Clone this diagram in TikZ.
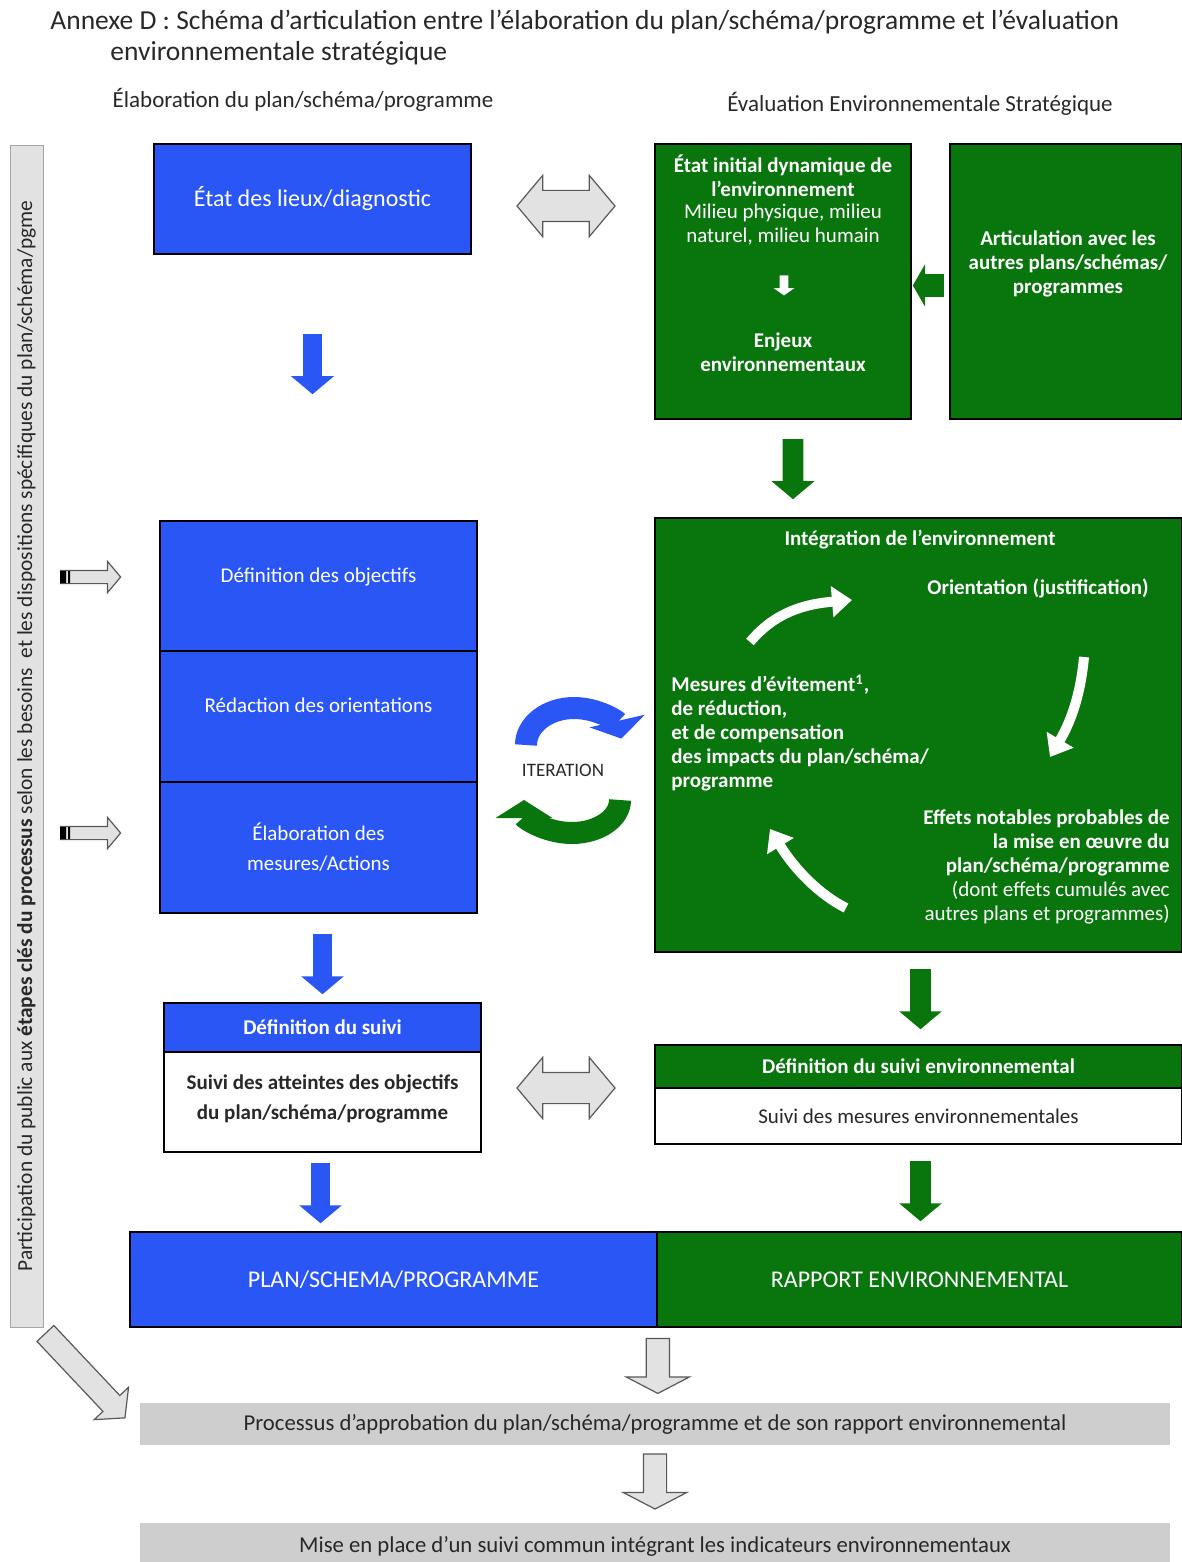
\documentclass[tikz,border=0pt]{standalone}
\usepackage{fontspec}
\setmainfont{Carlito}
\usetikzlibrary{shapes.arrows,arrows.meta}
\definecolor{bleu}{RGB}{42,86,246}
\definecolor{vert}{RGB}{8,118,12}
\definecolor{grisbar}{RGB}{206,206,206}
\definecolor{grisfl}{RGB}{226,226,226}
\definecolor{texte}{RGB}{40,40,40}
\begin{document}
\begin{tikzpicture}[x=0.5pt,y=-0.5pt,
  box/.style={draw=black,line width=0.8pt,inner sep=0pt,align=center,
    font=\fontsize{10.5}{12}\selectfont},
  bluebox/.style={box,fill=bleu,text=white},
  greenbox/.style={box,fill=vert,text=white},
  whitebox/.style={box,fill=white,text=texte},
  graybar/.style={fill=grisbar,inner sep=0pt,text=texte,
    font=\fontsize{11.35}{13}\selectfont},
  wtxt/.style={text=white,align=center,inner sep=0pt,
    font=\fontsize{10.5}{12}\selectfont},
  wbold/.style={wtxt,font=\fontsize{10.5}{12}\selectfont\bfseries},
  arr/.style={single arrow,anchor=tail,draw=none,single arrow tip angle=100},
  bluedown/.style={arr,fill=bleu,rotate=-90,inner sep=4.5pt,
    single arrow head extend=6pt,minimum height=30pt},
  greendown/.style={arr,fill=vert,rotate=-90,inner sep=5pt,
    single arrow head extend=5.5pt,minimum height=30pt},
  graydown/.style={arr,fill=grisfl,draw=black!65,line width=0.6pt,rotate=-90,
    inner sep=5.5pt,single arrow head extend=10pt,single arrow tip angle=125,
    minimum height=27.5pt},
  twoway/.style={double arrow,fill=grisfl,draw=black!65,line width=0.6pt,
    inner sep=7.5pt,double arrow head extend=7.5pt,double arrow tip angle=100,
    minimum height=49pt},
  sidearr/.style={arr,fill=grisfl,draw=black!65,line width=0.6pt,inner sep=3pt,
    single arrow head extend=4.5pt,minimum height=30pt},
  wcurve/.style={white,line width=5pt,-{Triangle[length=10pt,width=15pt]}},
  iter/.style={line width=11pt,-{Triangle[length=9pt,width=28pt]}}]
\useasboundingbox (0,0) rectangle (1182,1562);

% titre
\node[anchor=west,inner sep=0pt,text=texte,font=\fontsize{13.75}{15}\selectfont] (titre1) at (50,22)
  {Annexe D : Schéma d’articulation entre l’élaboration du plan/schéma/programme et l’évaluation};
\node[anchor=west,inner sep=0pt,text=texte,font=\fontsize{13.75}{15}\selectfont] (titre2) at (110,53)
  {environnementale stratégique};
\node[inner sep=0pt,text=texte,font=\fontsize{11.5}{13}\selectfont] (colg) at (303,100)
  {Élaboration du plan/schéma/programme};
\node[inner sep=0pt,text=texte,font=\fontsize{11.5}{13}\selectfont] (cold) at (920,104)
  {Évaluation Environnementale Stratégique};

% participation du public
\node[fill=grisfl,draw=black!35,rotate=90,inner sep=0pt,minimum width=591pt,minimum height=16.5pt,
  text=texte,font=\fontsize{10.7}{12}\selectfont] (part) at (26.5,736)
  {Participation du public aux \textbf{étapes clés du processus} selon les besoins\ \ et les dispositions spécifiques du plan/schéma/pgme};

% colonne plan/schema/programme
\node[bluebox,minimum width=158.5pt,minimum height=55pt,font=\fontsize{12}{14}\selectfont] (etat) at (312.5,199)
  {État des lieux/diagnostic};
\node[bluebox,minimum width=158.5pt,minimum height=65pt,text depth=11pt] (objectifs) at (318.5,586)
  {Définition des objectifs};
\node[bluebox,minimum width=158.5pt,minimum height=65.5pt,text depth=11pt] (redaction) at (318.5,716.5)
  {Rédaction des orientations};
\node[bluebox,minimum width=158.5pt,minimum height=65.5pt] (mesures) at (318.5,847.5)
  {Élaboration des\\[3pt]mesures/Actions};
\node[bluebox,minimum width=158.5pt,minimum height=24.5pt,font=\fontsize{10.5}{12}\selectfont\bfseries] (suivihead) at (322.5,1027.5)
  {Définition du suivi};
\node[whitebox,minimum width=158.5pt,minimum height=50pt,text depth=5pt,
  font=\fontsize{10.5}{15}\selectfont\bfseries] (suivibody) at (322.5,1102)
  {Suivi des atteintes des objectifs\\du plan/schéma/programme};

% colonne evaluation environnementale
\node[greenbox,minimum width=128pt,minimum height=137.5pt] (etatinit) at (783,281.5) {};
\node[wbold] (eti) at (783,176) {État initial dynamique de\\l’environnement};
\node[wtxt] (milieu) at (783,224.5) {Milieu physique, milieu\\naturel, milieu humain};
\node[wbold] (enjeux) at (783,352) {Enjeux\\environnementaux};
\node[arr,fill=white,rotate=-90,inner sep=2pt,single arrow head extend=3pt,
  single arrow tip angle=110,minimum height=10pt] (petite) at (784,275) {};
\node[greenbox,minimum width=116pt,minimum height=137.5pt] (artic) at (1066,281.5) {};
\node[wbold] (artict) at (1068,264) {Articulation avec les\\autres plans/schémas/\\programmes};

\node[greenbox,minimum width=263.5pt,minimum height=217pt] (integ) at (918.5,735) {};
\node[wbold] (integt) at (920,540) {Intégration de l’environnement};
\node[wbold] (orient) at (1038,588) {Orientation (justification)};
\node[wbold,align=left,anchor=west] (evit) at (671,733)
  {Mesures d’évitement\textsuperscript{1},\\de réduction,\\et de compensation\\des impacts du plan/schéma/\\programme};
\node[wtxt,align=right,anchor=east] (effets) at (1170,867)
  {\bfseries Effets notables probables de\\\bfseries la mise en œuvre du\\\bfseries plan/schéma/programme\\(dont effets cumulés avec\\autres plans et programmes)};
\draw[wcurve] (750,642) .. controls (775,612) and (805,604) .. (852,600);
\draw[wcurve] (1084,657) .. controls (1081,690) and (1073,718) .. (1050,757);
\draw[wcurve] (846,908) .. controls (820,895) and (795,870) .. (770,829);

\node[greenbox,minimum width=263.5pt,minimum height=21.5pt,font=\fontsize{10.5}{12}\selectfont\bfseries] (envhead) at (918.5,1066.5)
  {Définition du suivi environnemental};
\node[whitebox,minimum width=263.5pt,minimum height=28pt] (envbody) at (918.5,1116)
  {Suivi des mesures environnementales};

% rapport final
\node[bluebox,minimum width=263.5pt,minimum height=47.5pt,font=\fontsize{12}{14}\selectfont] (plan) at (393.5,1279.5)
  {PLAN/SCHEMA/PROGRAMME};
\node[greenbox,minimum width=262.5pt,minimum height=47.5pt,font=\fontsize{12}{14}\selectfont] (rapport) at (919.5,1279.5)
  {RAPPORT ENVIRONNEMENTAL};
\node[graybar,minimum width=515pt,minimum height=21pt] (approb) at (655,1424)
  {Processus d’approbation du plan/schéma/programme et de son rapport environnemental};
\node[graybar,minimum width=515pt,minimum height=23pt] (commun) at (655,1546)
  {Mise en place d’un suivi commun intégrant les indicateurs environnementaux};

% fleches
\node[bluedown] (f1) at ([yshift=-39.5pt]etat.south) {};
\node[greendown] (f2) at ([xshift=5pt,yshift=-9.5pt]etatinit.south) {};
\node[arr,fill=vert,rotate=180,inner sep=5.5pt,single arrow head extend=5pt,
  single arrow tip angle=120,minimum height=15.5pt] (f3) at ([xshift=-2.5pt,yshift=-2pt]artic.west) {};
\node[bluedown] (f4) at ([xshift=2pt,yshift=-10pt]mesures.south) {};
\node[greendown] (f5) at ([xshift=1pt,yshift=-8pt]integ.south) {};
\node[bluedown] (f6) at ([xshift=-1pt,yshift=-5pt]suivibody.south) {};
\node[greendown] (f7) at ([xshift=1pt,yshift=-8pt]envbody.south) {};
\node[graydown] (f8) at ([yshift=-5pt]plan.south east) {};
\node[graydown] (f9) at ([yshift=-4pt]approb.south) {};
\node[twoway] (d1) at (566,206) {};
\node[twoway] (d2) at (566,1088) {};
\node[sidearr] (s1) at (60,577) {};
\node[sidearr] (s2) at (60,833) {};
\fill[black] (60,571) rectangle (66,583) (68,571) rectangle (70,583);
\fill[black] (60,827) rectangle (66,839) (68,827) rectangle (70,839);
\node[arr,fill=grisfl,draw=black!65,line width=0.6pt,rotate=-46.7,inner sep=5.5pt,
  single arrow head extend=6pt,minimum height=58pt] (diag) at (45,1333) {};

% iteration
\draw[iter,bleu] (526,745) arc[start angle=180,end angle=350,x radius=48,y radius=37];
\draw[iter,vert] (620,800) arc[start angle=0,end angle=180,x radius=48,y radius=33];
\node[inner sep=0pt,text=texte,font=\fontsize{9.5}{11}\selectfont] (iteration) at (563,770) {ITERATION};
\end{tikzpicture}
\end{document}
